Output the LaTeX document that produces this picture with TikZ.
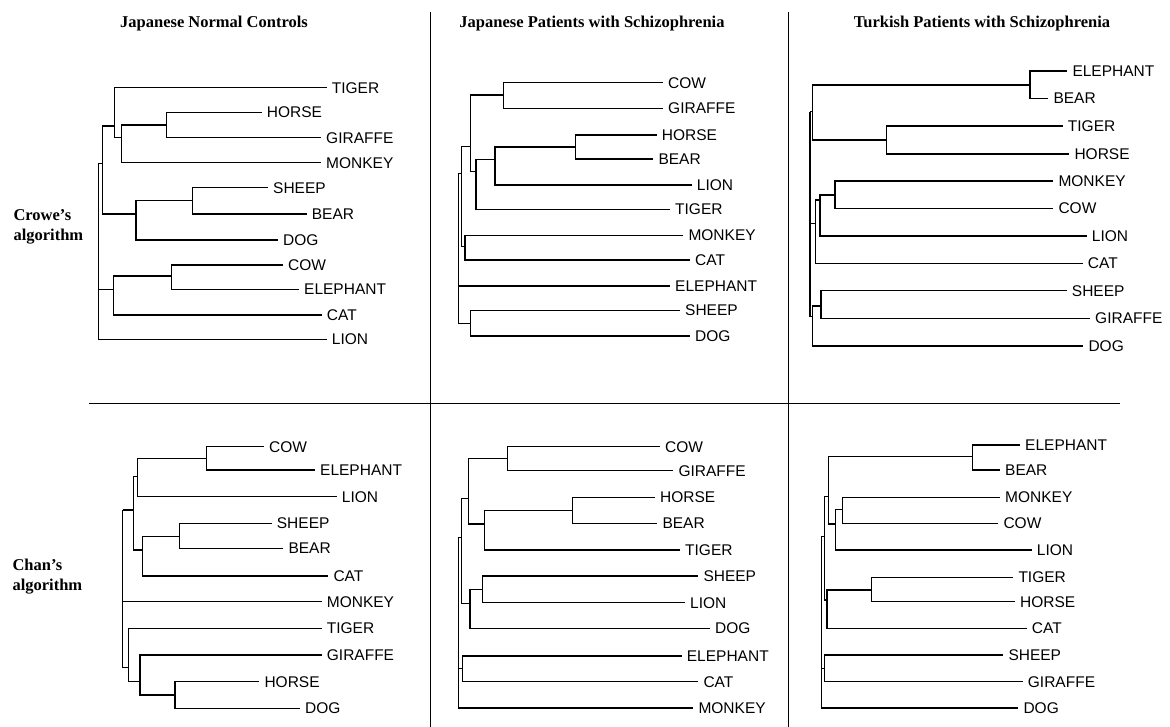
\documentclass[tikz,border=0pt]{standalone}
\usepackage{fontspec}
\setmainfont{Liberation Serif}
\setsansfont{Liberation Sans}
\usepackage{tikz}
\usetikzlibrary{positioning}

\begin{document}
\begin{tikzpicture}[x=1pt,y=-1pt,
  leaf/.style={anchor=west,inner xsep=5pt,inner ysep=0pt,font=\sffamily\fontsize{15.5}{18}\selectfont},
  branch/.style={line width=1.3pt},
  rule/.style={line width=0.9pt},
  paneltitle/.style={anchor=base,font=\bfseries\fontsize{16.5}{20}\selectfont},
  rowlabel/.style={anchor=west,align=left,font=\bfseries\fontsize{16.5}{20}\selectfont}]
  \useasboundingbox (0,0) rectangle (1170,727);
  % frame
  \coordinate (v1top) at (430,12);  \coordinate (v1bot) at (430,727);
  \coordinate (v2top) at (788,12);  \coordinate (v2bot) at (788,727);
  \coordinate (hleft) at (89,403);  \coordinate (hright) at (1120,403);
  \draw[rule] (v1top)--(v1bot);
  \draw[rule] (v2top)--(v2bot);
  \draw[rule] (hleft)--(hright);
  \node[paneltitle] (tjn) at (214,28) {Japanese Normal Controls};
  \node[paneltitle] (tjp) at (592,28) {Japanese Patients with Schizophrenia};
  \node[paneltitle] (ttp) at (982,28) {Turkish Patients with Schizophrenia};
  \node[rowlabel] (crowe) at (10,227) {Crowe's\\algorithm};
  \node[rowlabel] (chan) at (9,577) {Chan's\\algorithm};

  % Japanese normal, Crowe
  \foreach \t/\x/\y in {TIGER/326.7/87.7,HORSE/261.7/112.3,GIRAFFE/321/137.7,MONKEY/321/162.7,
    SHEEP/268/187.7,BEAR/306.7/214,DOG/278/240,COW/283/265,ELEPHANT/299/289.3,CAT/321.7/315,LION/326.7/339.3}
    \node[leaf] (jnc-\t) at (\x,\y) {\t};
  \foreach \n/\x/\y in {hg/166.7/125,hgm/121.7/137.7,t/114.3/126,sb/192.7/200.7,sbd/136/214,
    up/102.7/163.3,ce/171.7/276,cec/113.3/289.3,root/98.3/163.3}
    \coordinate (jnc-\n) at (\x,\y);
  \foreach \p/\c in {hg/HORSE,hg/GIRAFFE,hgm/hg,hgm/MONKEY,t/TIGER,t/hgm,sb/SHEEP,sb/BEAR,sbd/sb,sbd/DOG,
    up/t,up/sbd,ce/COW,ce/ELEPHANT,cec/ce,cec/CAT,root/up,root/cec,root/LION}
    \draw[branch] (jnc-\p) |- (jnc-\c);

  % Japanese patients, Crowe
  \foreach \t/\x/\y in {COW/663/82.7,GIRAFFE/663/108.3,HORSE/656.7/135,BEAR/653.3/159,LION/691.7/185,
    TIGER/670/209.5,MONKEY/683.3/235.3,CAT/690/260,ELEPHANT/670/286,SHEEP/680/310.5,DOG/690/336}
    \node[leaf] (jpc-\t) at (\x,\y) {\t};
  \foreach \n/\x/\y in {cg/503.3/95,hb/575.7/147,hbl/495/159.3,hblt/476/171.7,top/470.7/146.7,
    mc/465/246.7,up/461.7/173.3,sd/470.7/323.3,root/458.3/173.3}
    \coordinate (jpc-\n) at (\x,\y);
  \foreach \p/\c in {cg/COW,cg/GIRAFFE,hb/HORSE,hb/BEAR,hbl/hb,hbl/LION,hblt/hbl,hblt/TIGER,top/cg,top/hblt,
    mc/MONKEY,mc/CAT,up/top,up/mc,sd/SHEEP,sd/DOG,root/up,root/ELEPHANT,root/sd}
    \draw[branch] (jpc-\p) |- (jpc-\c);

  % Turkish patients, Crowe
  \foreach \t/\x/\y in {ELEPHANT/1067.3/71,BEAR/1048.3/98.3,TIGER/1062.7/126,HORSE/1069.3/154,MONKEY/1053.3/181,
    COW/1053.3/208.3,LION/1086.7/236,CAT/1082.7/263.3,SHEEP/1066.7/290.7,GIRAFFE/1090/318.3,DOG/1083.3/346}
    \node[leaf] (tpc-\t) at (\x,\y) {\t};
  \foreach \n/\x/\y in {eb/1030/85,th/886.7/140,top/812.3/111.7,mc/835/195,mcl/820/200,mclc/815.7/223.3,
    sg/821/306,sgd/812.3/316.7,root/810/111.7}
    \coordinate (tpc-\n) at (\x,\y);
  \foreach \p/\c in {eb/ELEPHANT,eb/BEAR,th/TIGER,th/HORSE,top/eb,top/th,mc/MONKEY,mc/COW,mcl/mc,mcl/LION,
    mclc/mcl,mclc/CAT,sg/SHEEP,sg/GIRAFFE,sgd/sg,sgd/DOG,root/top,root/mclc,root/sgd}
    \draw[branch] (tpc-\p) |- (tpc-\c);

  % Japanese normal, Chan
  \foreach \t/\x/\y in {COW/264/446.7,ELEPHANT/315/470,LION/336.7/496.7,SHEEP/271.7/523.3,BEAR/283.3/548.3,
    CAT/328.3/576,MONKEY/321.7/601.7,TIGER/321.7/628.3,GIRAFFE/321.7/655,HORSE/259.3/681.7,DOG/300/708.3}
    \node[leaf] (jna-\t) at (\x,\y) {\t};
  \foreach \n/\x/\y in {ce/206.7/458.3,cel/137.3/476.7,sb/179.3/536.7,sbc/142.3/550,up/133.3/510,
    hd/175/695,hdg/140/681.7,low/128.3/667.3,root/122.7/510}
    \coordinate (jna-\n) at (\x,\y);
  \foreach \p/\c in {ce/COW,ce/ELEPHANT,cel/ce,cel/LION,sb/SHEEP,sb/BEAR,sbc/sb,sbc/CAT,up/cel,up/sbc,
    hd/HORSE,hd/DOG,hdg/GIRAFFE,hdg/hd,low/TIGER,low/hdg,root/up,root/MONKEY,root/low}
    \draw[branch] (jna-\p) |- (jna-\c);

  % Japanese patients, Chan
  \foreach \t/\x/\y in {COW/660/446.7,GIRAFFE/673.3/470.7,HORSE/655/497.3,BEAR/657.3/523.3,TIGER/680/550,
    SHEEP/698.3/576,LION/685/602.7,DOG/710/628.3,ELEPHANT/681.7/656,CAT/698.3/681.7,MONKEY/693.3/708}
    \node[leaf] (jpa-\t) at (\x,\y) {\t};
  \foreach \n/\x/\y in {cg/507.3/458.3,hb/572.7/510.7,hbt/484.3/524,top/468.3/498.3,sl/482.3/589.3,
    sld/470/603.3,up/461.7/537.3,ec/462.7/668.3,root/458.3/537.3}
    \coordinate (jpa-\n) at (\x,\y);
  \foreach \p/\c in {cg/COW,cg/GIRAFFE,hb/HORSE,hb/BEAR,hbt/hb,hbt/TIGER,top/cg,top/hbt,sl/SHEEP,sl/LION,
    sld/sl,sld/DOG,up/top,up/sld,ec/ELEPHANT,ec/CAT,root/up,root/ec,root/MONKEY}
    \draw[branch] (jpa-\p) |- (jpa-\c);

  % Turkish patients, Chan
  \foreach \t/\x/\y in {ELEPHANT/1020/445,BEAR/1000/470,MONKEY/1000/497.3,COW/998.3/523.3,LION/1031.7/550,
    TIGER/1013.3/577.3,HORSE/1015/601.7,CAT/1026.7/628.3,SHEEP/1003.3/655,GIRAFFE/1022.7/681.7,DOG/1018.3/708}
    \node[leaf] (tpa-\t) at (\x,\y) {\t};
  \foreach \n/\x/\y in {eb/972.7/456.7,mc/842.7/509.3,mcl/835.3/524,top/828.7/496.7,th/871.7/590,
    thc/827/600,up/824.7/536.7,sg/824.7/668.3,root/821.3/536.7}
    \coordinate (tpa-\n) at (\x,\y);
  \foreach \p/\c in {eb/ELEPHANT,eb/BEAR,mc/MONKEY,mc/COW,mcl/mc,mcl/LION,top/eb,top/mcl,th/TIGER,th/HORSE,
    thc/th,thc/CAT,up/top,up/thc,sg/SHEEP,sg/GIRAFFE,root/up,root/sg,root/DOG}
    \draw[branch] (tpa-\p) |- (tpa-\c);
\end{tikzpicture}
\end{document}
